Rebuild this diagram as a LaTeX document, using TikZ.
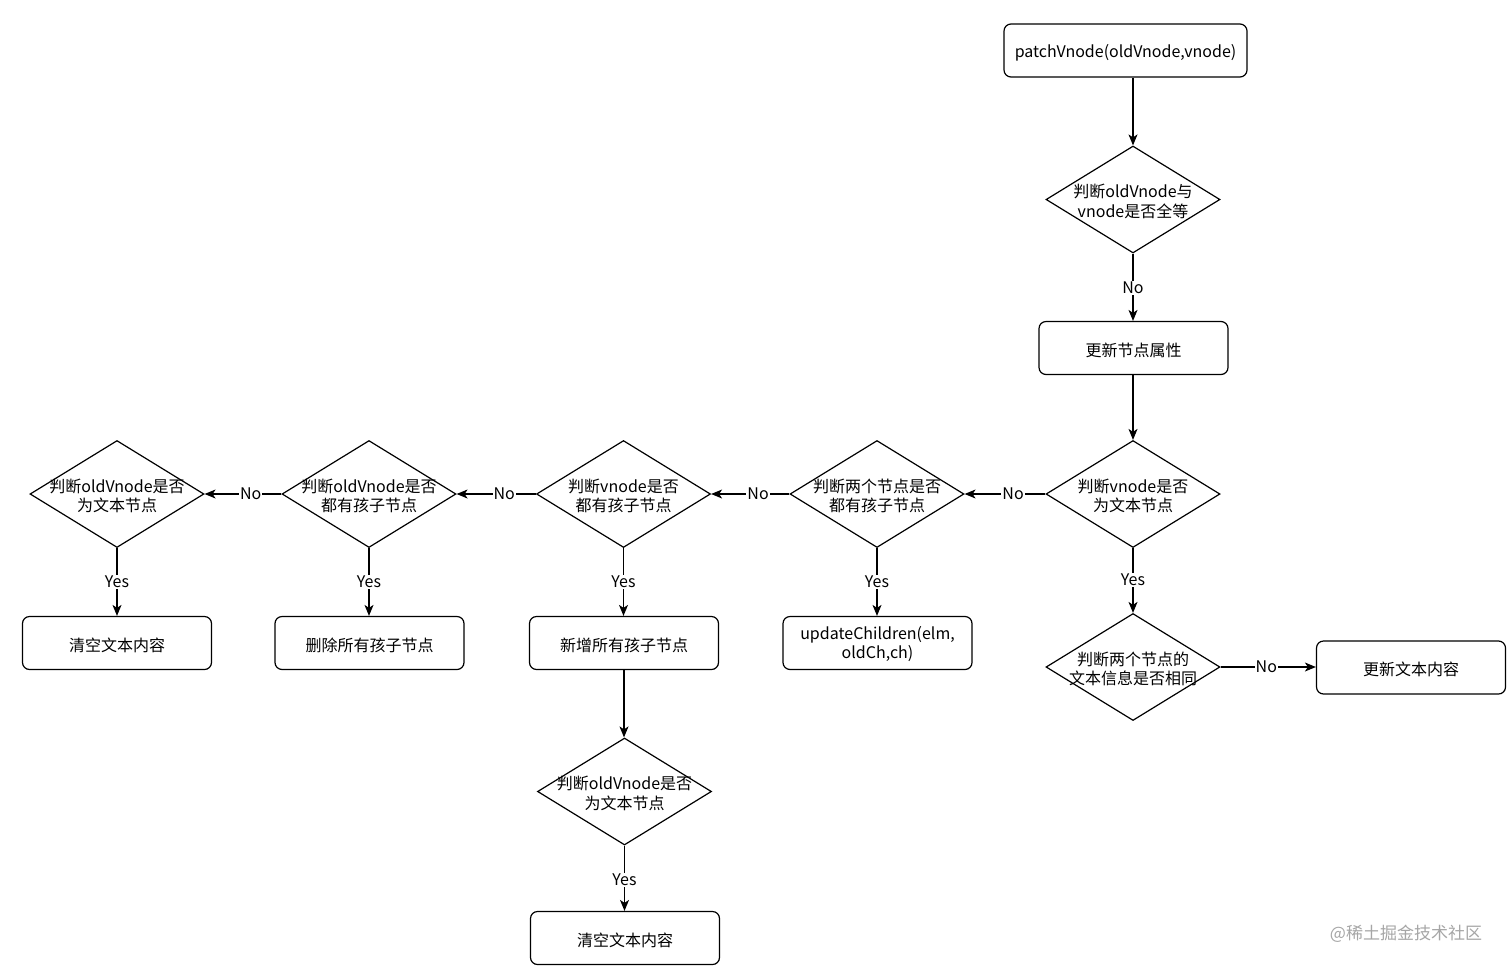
\documentclass[tikz,border=0pt]{standalone}
\usepackage{fontspec}
\setmainfont{Noto Sans CJK SC}
\usetikzlibrary{shapes.geometric,arrows.meta}
\newcommand{\twol}[2]{\raisebox{-4pt}[\height][\depth]{\makebox[0pt]{\begin{tabular}{@{}c@{}}#1\\#2\end{tabular}}}}
\newcommand{\lowr}[1]{\raisebox{-2pt}[\height][\depth]{#1}}
\begin{document}
\begin{tikzpicture}[x=1pt,y=-1pt,
  every node/.style={font=\fontsize{16}{19}\selectfont},
  box/.style={draw, rounded corners=7pt, line width=1.2pt, minimum width=189pt, minimum height=53pt, inner sep=0pt, align=center},
  dia/.style={draw, diamond, line width=1.2pt, minimum width=174pt, minimum height=107pt, inner sep=0pt},
  arr/.style={line width=1.2pt, -{Stealth[length=11pt,width=9pt,inset=3pt]}},
  lab/.style={fill=white, inner sep=1pt}
]
\fill[white] (0,0) rectangle (1512,970);
\useasboundingbox (0,0) rectangle (1512,970);

\node[box, minimum width=243pt] (start) at (1125.5,50.5) {\lowr{patchVnode(oldVnode,vnode)}};
\node[dia] (d1) at (1133,199.5) {\twol{判断oldVnode与}{vnode是否全等}};
\node[box] (b1) at (1133.5,348) {\lowr{更新节点属性}};
\node[dia] (d2) at (1133,494) {\twol{判断vnode是否}{为文本节点}};
\node[dia] (d3) at (1133,667) {\twol{判断两个节点的}{文本信息是否相同}};
\node[box] (b2) at (1411,667.5) {\lowr{更新文本内容}};

\node[dia] (d4) at (877,494) {\twol{判断两个节点是否}{都有孩子节点}};
\node[dia] (d5) at (623.5,494) {\twol{判断vnode是否}{都有孩子节点}};
\node[dia] (d6) at (369,494) {\twol{判断oldVnode是否}{都有孩子节点}};
\node[dia] (d7) at (117,494) {\twol{判断oldVnode是否}{为文本节点}};

\node[box] (b4) at (877.5,643) {\lowr{\begin{tabular}{@{}c@{}}updateChildren(elm,\\oldCh,ch)\end{tabular}}};
\node[box] (b5) at (624,643) {\lowr{新增所有孩子节点}};
\node[box] (b6) at (369.5,643) {\lowr{删除所有孩子节点}};
\node[box] (b7) at (117,643) {\lowr{清空文本内容}};

\node[dia] (d8) at (624.5,791.5) {\twol{判断oldVnode是否}{为文本节点}};
\node[box] (b8) at (625,938) {\lowr{清空文本内容}};

\draw[arr] (start.south -| d1.north) -- (d1.north);
\draw[arr] (d1.south) -- node[lab, pos=0.51] {No} (d1.south |- b1.north);
\draw[arr] (b1.south -| d2.north) -- (d2.north);
\draw[arr] (d2.south) -- node[lab, pos=0.49] {Yes} (d3.north);
\draw[arr] (d3.east) -- node[lab, pos=0.48] {No} (b2.west |- d3.east);

\draw[arr] (d2.west) -- node[lab, pos=0.4] {No} (d4.east);
\draw[arr] (d4.west) -- node[lab, pos=0.4] {No} (d5.east);
\draw[arr] (d5.west) -- node[lab, pos=0.4] {No} (d6.east);
\draw[arr] (d6.west) -- node[lab, pos=0.4] {No} (d7.east);

\draw[arr] (d4.south) -- node[lab, pos=0.5] {Yes} (d4.south |- b4.north);
\draw[arr] (d5.south) -- node[lab, pos=0.5] {Yes} (d5.south |- b5.north);
\draw[arr] (d6.south) -- node[lab, pos=0.5] {Yes} (d6.south |- b6.north);
\draw[arr] (d7.south) -- node[lab, pos=0.5] {Yes} (d7.south |- b7.north);

\draw[arr] (b5.south) -- (b5.south |- d8.north);
\draw[arr] (d8.south) -- node[lab, pos=0.53] {Yes} (d8.south |- b8.north);

\node[text=black!35, font=\fontsize{17}{20}\selectfont] (wm) at (1406,934) {@稀土掘金技术社区};
\end{tikzpicture}
\end{document}
